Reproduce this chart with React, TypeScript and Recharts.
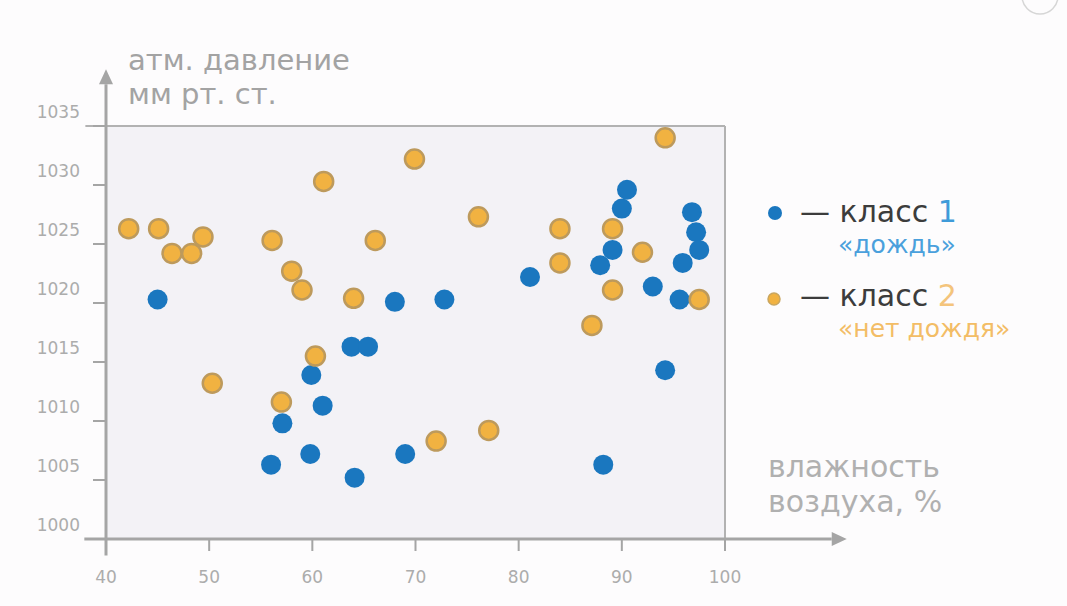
import { ScatterChart, Scatter, XAxis, YAxis, CartesianGrid, ReferenceLine } from 'recharts';

// класс 1 «дождь»
const rainHumidity = [45, 56, 57.1, 61, 59.8, 64.1, 69, 59.9, 63.8, 65.4, 68, 72.8, 81.1, 87.9, 89.1, 90, 90.5, 93, 95.6, 95.9, 96.8, 97.2, 97.5, 94.2, 88.2];
const rainPressure = [1020.3, 1006.3, 1009.8, 1011.3, 1007.2, 1005.2, 1007.2, 1013.9, 1016.3, 1016.3, 1020.1, 1020.3, 1022.2, 1023.2, 1024.5, 1028, 1029.6, 1021.4, 1020.3, 1023.4, 1027.7, 1026, 1024.5, 1014.3, 1006.3];

// класс 2 «нет дождя»
const dryHumidity = [42.2, 45.1, 46.4, 48.3, 49.4, 56.1, 58, 59, 61.1, 64, 66.1, 69.9, 50.3, 60.3, 57, 72, 77.1, 76.1, 84, 84, 89.1, 92, 89.1, 87.1, 94.2, 97.5];
const dryPressure = [1026.3, 1026.3, 1024.2, 1024.2, 1025.6, 1025.3, 1022.7, 1021.1, 1030.3, 1020.4, 1025.3, 1032.2, 1013.2, 1015.5, 1011.6, 1008.3, 1009.2, 1027.3, 1026.3, 1023.4, 1026.3, 1024.3, 1021.1, 1018.1, 1034, 1020.3];

const xTicks = [40, 50, 60, 70, 80, 90, 100];
const yTicks = [1000, 1005, 1010, 1015, 1020, 1025, 1030, 1035];

const rainData = rainHumidity.map((h, i) => ({ h, p: rainPressure[i] }));
const dryData = dryHumidity.map((h, i) => ({ h, p: dryPressure[i] }));

const FONT = '"DejaVu Sans", sans-serif';
const AXIS = '#a5a5a5';
const BLUE = '#1a77bf';
const ORANGE = '#f1b241';

const blueDot = (props: any) => <circle cx={props.cx} cy={props.cy} r={10} fill={BLUE} />;
const orangeDot = (props: any) => (
  <circle cx={props.cx} cy={props.cy} r={9.5} fill={ORANGE} stroke="#bd9a5c" strokeWidth={2.5} />
);

const Arrow = (props: any) => {
  const { x1, y1, x2, y2 } = props;
  const dx = x2 - x1;
  const dy = y2 - y1;
  const len = Math.hypot(dx, dy) || 1;
  const ux = dx / len;
  const uy = dy / len;
  const bx = x2 - ux * 15;
  const by = y2 - uy * 15;
  const w = 7;
  return (
    <g>
      <line x1={x1} y1={y1} x2={bx} y2={by} stroke={AXIS} strokeWidth={3} />
      <polygon
        points={`${x2},${y2} ${bx - uy * w},${by + ux * w} ${bx + uy * w},${by - ux * w}`}
        fill={AXIS}
      />
    </g>
  );
};

const YTick = ({ x, y, payload }: any) => (
  <text x={x - 13} y={y - 8} textAnchor="end" fill="#acacac" fontSize={17} fontFamily={FONT}>
    {payload.value}
  </text>
);

const XTick = ({ x, y, payload }: any) => (
  <text x={x} y={y + 32} textAnchor="middle" fill="#acacac" fontSize={17} fontFamily={FONT}>
    {payload.value}
  </text>
);

const YTitle = (p: any) => {
  const vb = p.viewBox || { x: 36, y: 126, width: 70 };
  const x = vb.x + vb.width + 22;
  return (
    <text x={x} y={vb.y - 56} fill="#a3a3a3" fontSize={29} fontFamily={FONT}>
      <tspan x={x}>атм. давление</tspan>
      <tspan x={x} dy={34}>мм рт. ст.</tspan>
    </text>
  );
};

const XTitle = (p: any) => {
  const vb = p.viewBox || { x: 106, y: 539, width: 619 };
  const x = vb.x + vb.width + 43;
  return (
    <text x={x} y={vb.y - 62} fill="#b0b0b0" fontSize={30} fontFamily={FONT}>
      <tspan x={x}>влажность</tspan>
      <tspan x={x} dy={35}>воздуха, %</tspan>
    </text>
  );
};

export default function App() {
  return (
    <div style={{ position: 'absolute', left: 0, top: 0, width: 1067, height: 606, background: '#fdfcfd', overflow: 'hidden' }}>
      <ScatterChart width={1067} height={606} margin={{ top: 126, right: 342, bottom: 27, left: 36 }}>
        <CartesianGrid fill="#f3f2f6" horizontal={false} vertical={false} />
        <XAxis
          type="number"
          dataKey="h"
          domain={[40, 100]}
          ticks={xTicks}
          allowDataOverflow
          height={40}
          axisLine={false}
          tickLine={{ stroke: AXIS, strokeWidth: 2 }}
          tickSize={12}
          tickMargin={0}
          tick={<XTick />}
          label={{ content: XTitle }}
        />
        <YAxis
          type="number"
          dataKey="p"
          domain={[1000, 1035]}
          ticks={yTicks}
          allowDataOverflow
          width={70}
          axisLine={false}
          tickLine={{ stroke: AXIS, strokeWidth: 2 }}
          tickSize={13}
          tickMargin={0}
          tick={<YTick />}
          label={{ content: YTitle }}
        />
        <ReferenceLine segment={[{ x: 38, y: 1035 }, { x: 100, y: 1035 }]} ifOverflow="visible" stroke="#b2b2b2" strokeWidth={2} />
        <ReferenceLine segment={[{ x: 100, y: 1000 }, { x: 100, y: 1035 }]} ifOverflow="visible" stroke="#b2b2b2" strokeWidth={2} />
        <ReferenceLine segment={[{ x: 37.9, y: 1000 }, { x: 111.8, y: 1000 }]} ifOverflow="visible" shape={Arrow} />
        <ReferenceLine segment={[{ x: 40, y: 998.6 }, { x: 40, y: 1039.8 }]} ifOverflow="visible" shape={Arrow} />
        <Scatter data={rainData} shape={blueDot} isAnimationActive={false} />
        <Scatter data={dryData} shape={orangeDot} isAnimationActive={false} />
      </ScatterChart>
      <svg width={1067} height={606} style={{ position: 'absolute', left: 0, top: 0, pointerEvents: 'none' }}>
        <circle cx={1040} cy={-4} r={18} fill="none" stroke="#d6d6d6" strokeWidth={1.5} />
        <circle cx={775} cy={213} r={7} fill={BLUE} />
        <text x={800} y={222} fontSize={30} fontFamily={FONT} fill="#3c3c3c">
          — класс <tspan fill="#3f9bd9">1</tspan>
        </text>
        <text x={838} y={253} fontSize={25} fontFamily={FONT} fill="#4aa0dc">«дождь»</text>
        <circle cx={774} cy={299} r={6} fill={ORANGE} stroke="#c9a660" strokeWidth={1.5} />
        <text x={800} y={306} fontSize={30} fontFamily={FONT} fill="#3c3c3c">
          — класс <tspan fill="#f4c47c">2</tspan>
        </text>
        <text x={838} y={337} fontSize={25} fontFamily={FONT} fill="#f3bd66">«нет дождя»</text>
      </svg>
    </div>
  );
}
